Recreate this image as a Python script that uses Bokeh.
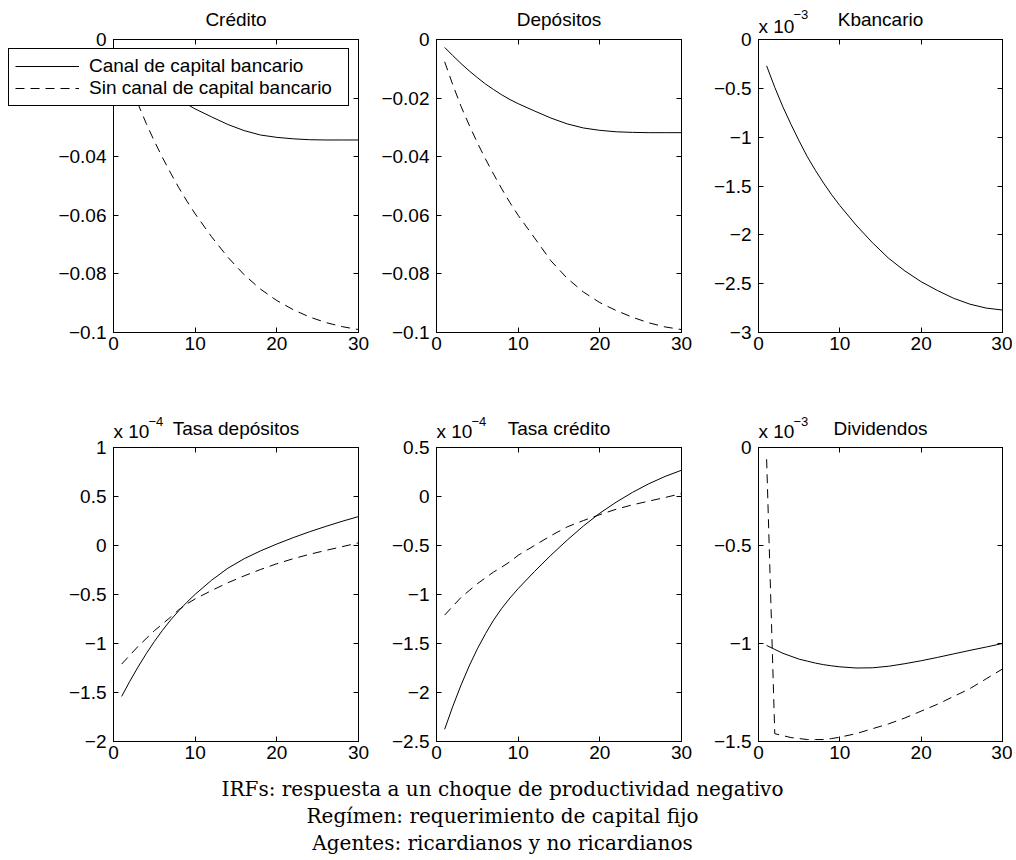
from bokeh.plotting import figure
from bokeh.models import Label, LinearAxis, FixedTicker, Legend, LegendItem, Range1d, GridBox
from bokeh.layouts import column, row
from bokeh.embed import file_html
from bokeh.resources import INLINE

# ---------------- data ----------------
periods = [1, 2, 3, 4, 5, 6, 7, 8, 9, 10, 12, 14, 16, 18, 20, 22, 24, 26, 28, 30]

credito_con = [-0.0030, -0.0060, -0.0089, -0.0116, -0.0141, -0.0164, -0.0185, -0.0204, -0.0221, -0.0237,
               -0.0264, -0.0290, -0.0311, -0.0326, -0.0334, -0.0339, -0.0342, -0.0343, -0.0343, -0.0343]
credito_sin = [-0.0072, -0.0148, -0.0220, -0.0286, -0.0347, -0.0403, -0.0456, -0.0506, -0.0552, -0.0595,
               -0.0673, -0.0743, -0.0803, -0.0852, -0.0891, -0.0922, -0.0947, -0.0966, -0.0980, -0.0990]

depositos_con = [-0.0027, -0.0055, -0.0082, -0.0107, -0.0130, -0.0152, -0.0171, -0.0189, -0.0205, -0.0219,
                 -0.0244, -0.0268, -0.0288, -0.0302, -0.0310, -0.0315, -0.0317, -0.0318, -0.0318, -0.0318]
depositos_sin = [-0.0076, -0.0155, -0.0228, -0.0292, -0.0352, -0.0408, -0.0460, -0.0510, -0.0557, -0.0600,
                 -0.0677, -0.0755, -0.0815, -0.0862, -0.0898, -0.0925, -0.0948, -0.0967, -0.0981, -0.0990]

# x 10^-3
kbancario_con = [-0.27, -0.49, -0.69, -0.87, -1.04, -1.20, -1.34, -1.47, -1.59, -1.70,
                 -1.90, -2.08, -2.24, -2.37, -2.48, -2.57, -2.65, -2.71, -2.75, -2.77]
kbancario_sin_x = [1, 30]
kbancario_sin = [0.0, 0.0]

# x 10^-4
tasa_dep_con = [-1.54, -1.385, -1.24, -1.105, -0.98, -0.865, -0.76, -0.665, -0.578, -0.498,
                -0.355, -0.232, -0.135, -0.055, 0.015, 0.08, 0.14, 0.195, 0.247, 0.295]
tasa_dep_sin = [-1.21, -1.12, -1.03, -0.95, -0.87, -0.80, -0.73, -0.655, -0.595, -0.545,
                -0.46, -0.38, -0.31, -0.245, -0.186, -0.135, -0.09, -0.05, -0.012, 0.027]

# x 10^-4
tasa_cred_con = [-2.375, -2.14, -1.925, -1.73, -1.555, -1.40, -1.26, -1.14, -1.035, -0.94,
                 -0.765, -0.60, -0.445, -0.30, -0.17, -0.058, 0.042, 0.13, 0.205, 0.268]
tasa_cred_sin = [-1.21, -1.12, -1.03, -0.96, -0.89, -0.83, -0.77, -0.72, -0.665, -0.60,
                 -0.50, -0.40, -0.31, -0.245, -0.185, -0.13, -0.085, -0.047, -0.01, 0.03]

# x 10^-3
dividendos_con = [-1.01, -1.03, -1.05, -1.065, -1.08, -1.09, -1.10, -1.108, -1.114, -1.119,
                  -1.125, -1.124, -1.116, -1.103, -1.088, -1.071, -1.053, -1.035, -1.018, -1.00]
dividendos_sin = [-0.06, -1.46, -1.47, -1.48, -1.485, -1.49, -1.49, -1.49, -1.485, -1.478,
                  -1.46, -1.435, -1.41, -1.38, -1.345, -1.31, -1.27, -1.23, -1.18, -1.13]

x_ticks = [0, 10, 20, 30]
credito_ticks = [-0.1, -0.08, -0.06, -0.04, -0.02, 0]
credito_labels = ["−0.1", "−0.08", "−0.06", "−0.04", "−0.02", "0"]
kb_ticks = [-3, -2.5, -2, -1.5, -1, -0.5, 0]
kb_labels = ["−3", "−2.5", "−2", "−1.5", "−1", "−0.5", "0"]
td_ticks = [-2, -1.5, -1, -0.5, 0, 0.5, 1]
td_labels = ["−2", "−1.5", "−1", "−0.5", "0", "0.5", "1"]
tc_ticks = [-2.5, -2, -1.5, -1, -0.5, 0, 0.5]
tc_labels = ["−2.5", "−2", "−1.5", "−1", "−0.5", "0", "0.5"]
dv_ticks = [-1.5, -1, -0.5, 0]
dv_labels = ["−1.5", "−1", "−0.5", "0"]

panel_titles = ["Crédito", "Depósitos", "Kbancario", "Tasa depósitos", "Tasa crédito", "Dividendos"]
panel_exponents = [None, None, "−3", "−4", "−4", "−3"]
legend_labels = ["Canal de capital bancario", "Sin canal de capital bancario"]
caption_lines = ["IRFs: respuesta a un choque de productividad negativo",
                 "Regímen: requerimiento de capital fijo",
                 "Agentes: ricardianos y no ricardianos"]

# ---------------- layout / style ----------------
SANS = "Liberation Sans"
SERIF = "DejaVu Serif"
FS = "19px"
DASH = "9 6"
W, H = 1012, 856

COLS = [dict(left=113, right=20, fw=245), dict(left=58, right=20, fw=245), dict(left=57, right=10, fw=244)]
ROWS = [dict(top=39, bottom=40, fh=293), dict(top=75, bottom=115, fh=294)]


def style_axis(ax, ticks, labels=None, hidden=False):
    ax.ticker = FixedTicker(ticks=ticks)
    ax.axis_line_color = "black"
    ax.axis_line_width = 1
    ax.major_tick_line_color = "black"
    ax.major_tick_in = 5
    ax.major_tick_out = 0
    ax.minor_tick_in = 0
    ax.minor_tick_out = 0
    if hidden:
        ax.major_label_overrides = {t: "" for t in ticks}
        ax.major_label_text_color = None
        ax.major_label_standoff = 0
    else:
        ax.major_label_text_font = SANS
        ax.major_label_text_font_size = FS
        ax.major_label_text_color = "black"
        if labels is not None:
            ax.major_label_overrides = {t: l for t, l in zip(ticks, labels)}


def panel(r, c, xs_con, ys_con, xs_sin, ys_sin, yr, yticks, ylabels):
    cs, rs = COLS[c], ROWS[r]
    p = figure(frame_width=cs["fw"], frame_height=rs["fh"],
               x_range=Range1d(0, 30), y_range=Range1d(*yr),
               output_backend="svg", toolbar_location=None,
               min_border_left=cs["left"], min_border_right=cs["right"],
               min_border_top=rs["top"], min_border_bottom=rs["bottom"])
    p.background_fill_color = "white"
    p.border_fill_color = "white"
    p.outline_line_color = "black"
    p.outline_line_width = 1
    p.xgrid.visible = False
    p.ygrid.visible = False
    style_axis(p.xaxis[0], x_ticks)
    p.xaxis[0].major_label_standoff = 4
    style_axis(p.yaxis[0], yticks, ylabels)
    p.yaxis[0].major_label_standoff = 7
    ra = LinearAxis()
    style_axis(ra, yticks, hidden=True)
    p.add_layout(ra, "right")
    ta = LinearAxis()
    style_axis(ta, x_ticks, hidden=True)
    p.add_layout(ta, "above")
    p.line(xs_con, ys_con, line_color="black", line_width=1)
    p.line(xs_sin, ys_sin, line_color="black", line_width=1, line_dash=DASH)
    return p


p1 = panel(0, 0, periods, credito_con, periods, credito_sin, (-0.1, 0), credito_ticks, credito_labels)
p2 = panel(0, 1, periods, depositos_con, periods, depositos_sin, (-0.1, 0), credito_ticks, credito_labels)
p3 = panel(0, 2, periods, kbancario_con, kbancario_sin_x, kbancario_sin, (-3, 0), kb_ticks, kb_labels)
p4 = panel(1, 0, periods, tasa_dep_con, periods, tasa_dep_sin, (-2, 1), td_ticks, td_labels)
p5 = panel(1, 1, periods, tasa_cred_con, periods, tasa_cred_sin, (-2.5, 0.5), tc_ticks, tc_labels)
p6 = panel(1, 2, periods, dividendos_con, periods, dividendos_sin, (-1.5, 0), dv_ticks, dv_labels)

main = column(row(p1, p2, p3, spacing=0), row(p4, p5, p6, spacing=0), spacing=0)

# ---------------- transparent overlay for titles, legend and caption ----------------
ov = figure(frame_width=W, frame_height=H, x_range=Range1d(0, W), y_range=Range1d(H, 0),
            output_backend="svg", toolbar_location=None, min_border=0,
            x_axis_type=None, y_axis_type=None)
ov.outline_line_color = None
ov.grid.visible = False
ov.background_fill_alpha = 0
ov.border_fill_alpha = 0

# frame geometry in page pixels (derived from the panel layout above)
col_left = [113, 436, 758]
col_width = [245, 245, 244]
title_base = [19, 428]
exp_base = [26, 431]
sup_base = [14, 421]

for i, (t, e) in enumerate(zip(panel_titles, panel_exponents)):
    r, c = divmod(i, 3)
    ov.add_layout(Label(x=col_left[c] + col_width[c] / 2, y=title_base[r], text=t, text_align="center",
                        text_baseline="alphabetic", text_font=SANS, text_font_size=FS, text_color="black"))
    if e:
        ov.add_layout(Label(x=col_left[c], y=exp_base[r], text="x 10", text_align="left",
                            text_baseline="alphabetic", text_font=SANS, text_font_size=FS, text_color="black"))
        ov.add_layout(Label(x=col_left[c] + 35, y=sup_base[r], text=e, text_align="left",
                            text_baseline="alphabetic", text_font=SANS, text_font_size="13px",
                            text_color="black"))

for yb, txt in zip([788, 815, 842], caption_lines):
    ov.add_layout(Label(x=502, y=yb, text=txt, text_align="center", text_baseline="alphabetic",
                        text_font=SERIF, text_font_size="20px", text_color="black"))

# legend samples: the Crédito series, kept hidden on the overlay (only their style is shown in the key)
lg_con = ov.line(periods, credito_con, line_color="black", line_width=1, visible=False)
lg_sin = ov.line(periods, credito_sin, line_color="black", line_width=1, line_dash=DASH, visible=False)
legend = Legend(items=[LegendItem(label=legend_labels[0], renderers=[lg_con]),
                       LegendItem(label=legend_labels[1], renderers=[lg_sin])],
                location=(8, H - 106), label_text_font=SANS, label_text_font_size=FS,
                label_text_color="black", border_line_color="black", border_line_width=1,
                border_line_alpha=1, background_fill_color="white", background_fill_alpha=1,
                inactive_fill_alpha=0, padding=6, spacing=0, glyph_width=64, glyph_height=22,
                label_height=22, label_width=253, label_standoff=10, margin=0)
ov.add_layout(legend, "center")

layout = GridBox(children=[(main, 0, 0), (ov, 0, 0)])

with open("out.html", "w") as f:
    f.write(file_html(layout, INLINE))
